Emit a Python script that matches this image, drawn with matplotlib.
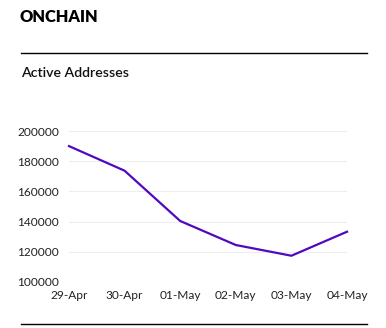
import matplotlib
matplotlib.use("Agg")
import matplotlib.pyplot as plt
from matplotlib.lines import Line2D

dates = ["29-Apr", "30-Apr", "01-May", "02-May", "03-May", "04-May"]
active_addresses = [190000, 173700, 140400, 124500, 117400, 133300]
y_ticks = [100000, 120000, 140000, 160000, 180000, 200000]

plt.rcParams['font.family'] = ['Lato', 'DejaVu Sans']

W, H = 386, 328
fig = plt.figure(figsize=(W / 100, H / 100), dpi=100)
fig.patch.set_facecolor("white")

# section header and rules
fig.text(20 / W, 1 - 17 / H, "ONCHAIN", fontsize=11.8, fontweight="heavy",
         color="#000000", va="center", ha="left")
fig.add_artist(Line2D([21 / W, 367 / W], [1 - 53 / H, 1 - 53 / H],
                      color="#000000", linewidth=1.0))
fig.text(21 / W, 1 - 73 / H, "Active Addresses", fontsize=10.2, fontweight="semibold",
         color="#111111", va="center", ha="left")
fig.add_artist(Line2D([21 / W, 367 / W], [1 - 324 / H, 1 - 324 / H],
                      color="#000000", linewidth=1.0))

ax = fig.add_axes([69 / W, (H - 282) / H, (347 - 69) / W, (282 - 131) / H])
x = list(range(len(dates)))
ax.plot(x, active_addresses, color="#5008C0", linewidth=1.6, clip_on=False,
        solid_joinstyle="round")

ax.set_xlim(0, len(dates) - 1)
ax.set_ylim(y_ticks[0], y_ticks[-1])
ax.set_xticks(x)
ax.set_xticklabels(dates)
ax.set_yticks(y_ticks)
ax.set_yticklabels([str(v) for v in y_ticks])
ax.grid(axis="y", color="#EEEEEE", linewidth=0.8)
ax.set_axisbelow(True)
for s in ax.spines.values():
    s.set_visible(False)
ax.tick_params(axis="both", length=0, labelsize=8.6, colors="#222222")
ax.tick_params(axis="y", pad=7)
ax.tick_params(axis="x", pad=6)

fig.savefig("out.png", dpi=100, facecolor="white")
